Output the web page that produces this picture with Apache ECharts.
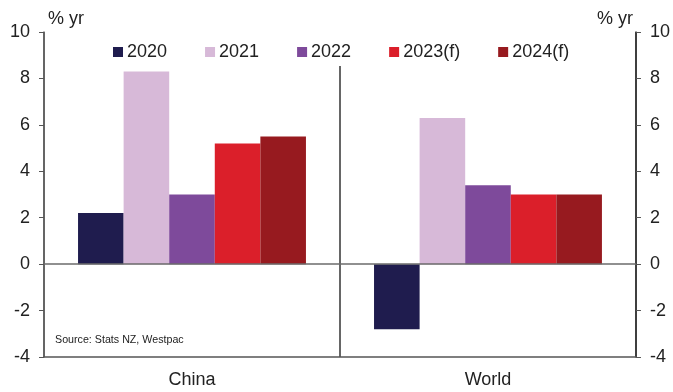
<!DOCTYPE html>
<html>
<head>
<meta charset="utf-8">
<script src="https://cdn.jsdelivr.net/npm/echarts@6/dist/echarts.min.js"></script>
<style>html,body{margin:0;padding:0;background:#fff;}#c{width:673px;height:392px;}</style>
</head>
<body>
<div id="c"></div>
<script>
const categories = ['China', 'World'];
const seriesNames = ['2020', '2021', '2022', '2023(f)', '2024(f)'];
const v2020 = [2.2, -2.8];
const v2021 = [8.3, 6.3];
const v2022 = [3.0, 3.4];
const v2023 = [5.2, 3.0];
const v2024 = [5.5, 3.0];
const yTicks = [-4, -2, 0, 2, 4, 6, 8, 10];

const colors = ['#1f1c4e', '#d7b9d8', '#7e4a9b', '#db1f2a', '#971a1f'];
const values = [v2020, v2021, v2022, v2023, v2024];
const font = '"Liberation Sans", Arial, sans-serif';

const chart = echarts.init(document.getElementById('c'));
const series = seriesNames.map((n, i) => ({
  name: n,
  type: 'bar',
  data: values[i],
  barGap: '0%',
  barCategoryGap: '23%',
  itemStyle: { color: colors[i] },
  z: 2
}));
series[0].markLine = {
  silent: true,
  symbol: 'none',
  label: { show: false },
  lineStyle: { color: '#6b6b6b', width: 1.5, type: 'solid' },
  data: [{ yAxis: 0 }],
  z: 3
};

const yCommon = {
  type: 'value',
  min: yTicks[0],
  max: yTicks[yTicks.length - 1],
  interval: 2,
  splitLine: { show: false },
  axisTick: { show: true, length: 5, lineStyle: { color: '#555' } },
  axisLabel: { fontSize: 18, color: '#222', fontFamily: font, margin: 14 },
};

chart.setOption({
  animation: false,
  color: colors,
  textStyle: { fontFamily: font },
  grid: { left: 44, right: 36, top: 32, bottom: 35, containLabel: false },
  legend: {
    data: seriesNames,
    left: 108,
    top: 31,
    padding: [12, 5, 5, 5],
    backgroundColor: '#fff',
    itemWidth: 10,
    itemHeight: 10,
    itemGap: 38,
    icon: 'rect',
    textStyle: { fontSize: 18, color: '#222', fontFamily: font, padding: [0, 0, 0, -1] }
  },
  xAxis: {
    type: 'category',
    data: categories,
    axisLine: { onZero: false, lineStyle: { color: '#555', width: 1.5 } },
    axisTick: { show: false },
    splitLine: { show: true, lineStyle: { color: '#333', width: 1.5 } },
    axisLabel: { fontSize: 18, color: '#222', fontFamily: font, margin: 14 }
  },
  yAxis: [
    Object.assign({}, yCommon, {
      position: 'left',
      axisLine: { show: true, lineStyle: { color: '#666', width: 1.5 } }
    }),
    Object.assign({}, yCommon, {
      position: 'right',
      axisLine: { show: true, lineStyle: { color: '#333', width: 1.5 } }
    })
  ],
  graphic: [
    { type: 'text', left: 48, top: 10, style: { text: '% yr', fontSize: 18, fill: '#222', fontFamily: font } },
    { type: 'text', left: 597, top: 10, style: { text: '% yr', fontSize: 18, fill: '#222', fontFamily: font } },
    { type: 'text', left: 55, top: 335, style: { text: 'Source: Stats NZ, Westpac', fontSize: 10.7, fill: '#222', fontFamily: font } }
  ],
  series: series
});
</script>
</body>
</html>
